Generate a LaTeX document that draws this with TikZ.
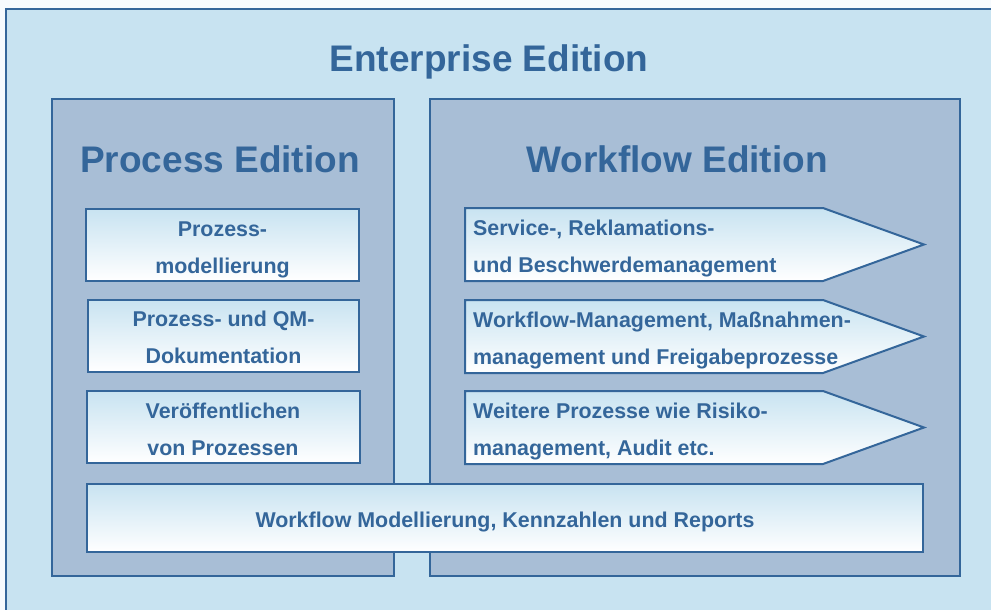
\documentclass[tikz,border=0pt]{standalone}
\usepackage{fontspec}
\setmainfont{Liberation Sans}
\usepackage{tikz}

\definecolor{edgeblue}{RGB}{52,102,154}
\definecolor{skyblue}{RGB}{200,227,241}
\definecolor{panelblue}{RGB}{168,190,214}
\definecolor{pagewhite}{RGB}{246,250,253}

% strut so that two-line texts sit like in the boxes
\newcommand{\boxstrut}{\rule[-5pt]{0pt}{29pt}}

\begin{document}
\begin{tikzpicture}[x=1pt,y=-1pt,
	panel/.style={draw=edgeblue, line width=2pt, fill=panelblue},
	featbox/.style={draw=edgeblue, line width=2pt, top color=skyblue, bottom color=white},
	title/.style={text=edgeblue, anchor=base, font=\fontsize{37}{44}\selectfont\bfseries},
	boxtext/.style={text=edgeblue, inner sep=0pt, font=\fontsize{21.4}{37}\selectfont\bfseries},
	leftbox/.style={featbox, boxtext, minimum width=273, minimum height=72, align=center}]
		% Page and frame of the enterprise edition
		\useasboundingbox (0,0) rectangle (991,610);
		\fill[pagewhite] (0,0) rectangle (991,610);
		\draw[draw=edgeblue, line width=1.5pt, fill=skyblue] (6,9) rectangle (1000,620);
		
		% The two editions
		\draw[panel] (52,99) rectangle (394,576);
		\draw[panel] (430,99) rectangle (960,576);
		
		% Titles
		\node[title] (enterprise) at (489,72) {Enterprise Edition};
		\node[title] (process) at (220,172) {Process Edition};
		\node[title] (workflow) at (677,172) {Workflow Edition};
		
		% Boxes of the process edition
		\node[leftbox] (modell) at (222.5,245) {\boxstrut Prozess-\\\boxstrut modellierung};
		\node[leftbox, minimum width=271] (doku) at (223.5,335.5) {\boxstrut Prozess- und QM-\\\boxstrut Dokumentation};
		\node[leftbox] (publish) at (223,427) {\boxstrut Ver\"offentlichen\\\boxstrut von Prozessen};
		
		% Arrows of the workflow edition
		\foreach \y in {208,300,391}
			\draw[featbox] (465,\y) -- (823,\y) -- (924,\y+36.5) -- (823,\y+73) -- (465,\y+73) -- cycle;
		\node[boxtext, anchor=west, align=left, inner xsep=8pt] (service) at (465,244.5)
			{\boxstrut Service-, Reklamations-\\\boxstrut und Beschwerdemanagement};
		\node[boxtext, anchor=west, align=left, inner xsep=8pt] (massnahmen) at (465,336.5)
			{\boxstrut Workflow-Management, Ma\ss nahmen-\\\boxstrut management und Freigabeprozesse};
		\node[boxtext, anchor=west, align=left, inner xsep=8pt] (weitere) at (465,427.5)
			{\boxstrut Weitere Prozesse wie Risiko-\\\boxstrut management, Audit etc.};
		
		% Common base of both editions
		\node[featbox, boxtext, minimum width=836, minimum height=68] (reports) at (505,518)
			{\boxstrut Workflow Modellierung, Kennzahlen und Reports};
	\end{tikzpicture}
\end{document}
